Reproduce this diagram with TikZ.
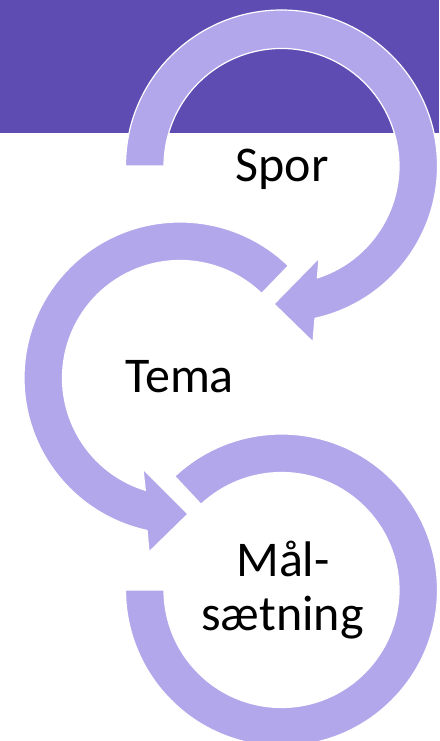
\documentclass[tikz,border=0pt]{standalone}
\usepackage{fontspec}
\setmainfont{Carlito}
\usetikzlibrary{calc}
\definecolor{band}{HTML}{5E4CB2}
\definecolor{ring}{HTML}{B3A7EB}
\tikzset{
  ringshape/.style={fill=ring, draw=white, line width=1.2pt, line join=miter},
  lbl/.style={font=\fontsize{50}{54}\selectfont, text=black, align=center, inner sep=0pt, anchor=base}
}
\begin{document}
\begin{tikzpicture}[x=1pt,y=1pt]
\useasboundingbox (0,0) rectangle (439,741);
\clip (0,0) rectangle (439,741);
\fill[band] (0,608) rectangle (439,741);
\coordinate (c1) at (281.5,575);
\coordinate (c2) at (180,363);
\coordinate (c3) at (281.5,151);
% arc 1 (Spor)
\coordinate (a1w2) at (313,399);
\coordinate (a1t) at (274,437);
\coordinate (a1w1) at (319,483);
\draw[ringshape] ($(c1)+(180:156)$) arc[start angle=180, end angle=-77.6, radius=156]
  -- (a1w2) -- (a1t) -- (a1w1)
  -- ($(c1)+(-72.2:117.5)$) arc[start angle=-72.2, end angle=180, radius=117.5] -- cycle;
% arc 2 (Tema)
\coordinate (a2w2) at (149,189);
\coordinate (a2t) at (188,227);
\coordinate (a2w1) at (143,272);
\draw[ringshape] ($(c2)+(46:156)$) arc[start angle=46, end angle=257.8, radius=156]
  -- (a2w2) -- (a2t) -- (a2w1)
  -- ($(c2)+(252.8:117.5)$) arc[start angle=252.8, end angle=46, radius=117.5] -- cycle;
% arc 3 (Målsætning)
\draw[ringshape] ($(c3)+(133.2:156)$) arc[start angle=133.2, end angle=-180, radius=156]
  -- ($(c3)+(-180:117.5)$) arc[start angle=-180, end angle=133.2, radius=117.5] -- cycle;
\node[lbl] (spor) at (282,559) {Spor};
\node[lbl] (tema) at (179.5,348) {Tema};
\node[lbl] (mal1) at (283,164) {Mål-};
\node[lbl] (mal2) at (282.5,110) {sætning};
\end{tikzpicture}
\end{document}
